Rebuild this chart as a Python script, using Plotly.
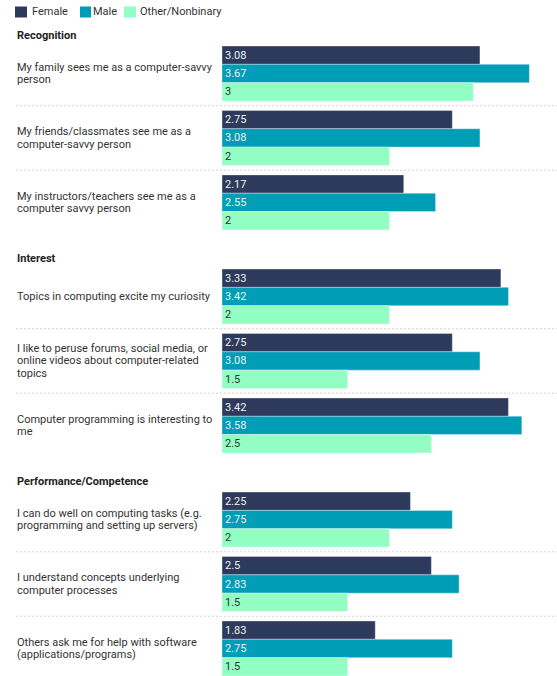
import plotly.graph_objects as go

# ---- data ----
groups = ["Recognition", "Interest", "Performance/Competence"]
question_group = [0, 0, 0, 1, 1, 1, 2, 2, 2]
questions = [
    "My family sees me as a computer-savvy<br>person",
    "My friends/classmates see me as a<br>computer-savvy person",
    "My instructors/teachers see me as a<br>computer savvy person",
    "Topics in computing excite my curiosity",
    "I like to peruse forums, social media, or<br>online videos about computer-related<br>topics",
    "Computer programming is interesting to<br>me",
    "I can do well on computing tasks (e.g.<br>programming and setting up servers)",
    "I understand concepts underlying<br>computer processes",
    "Others ask me for help with software<br>(applications/programs)",
]
female = [3.08, 2.75, 2.17, 3.33, 2.75, 3.42, 2.25, 2.5, 1.83]
male = [3.67, 3.08, 2.55, 3.42, 3.08, 3.58, 2.75, 2.83, 2.75]
other = [3, 2, 2, 2, 1.5, 2.5, 2, 1.5, 1.5]
series_names = ["Female", "Male", "Other/Nonbinary"]

# ---- style ----
colors = ["#2e3a5b", "#009db7", "#92fec3"]
text_colors = ["#f0f0f0", "#f0f0f0", "#333333"]
FONT = "Roboto"
W, H = 557, 676
L_MARGIN = 222
PLOT_W = W - L_MARGIN
LABEL_PX = 16
LINE_PX = 12.2
GROUP_EXTRA = 0.46


def px2x(px):
    return (px - L_MARGIN) / PLOT_W


def py2y(py):
    return 1 - py / H


# row positions
positions = []
p = 0.0
prev = question_group[0]
for g in question_group:
    if g != prev:
        p += GROUP_EXTRA
        prev = g
    positions.append(p)
    p += 1

fig = go.Figure()
for name, vals, c, tc in zip(series_names, [female, male, other], colors, text_colors):
    fig.add_trace(go.Bar(
        y=positions, x=vals, orientation="h", name=name,
        marker=dict(color=c, line=dict(color="rgba(255,255,255,0.35)", width=1)),
        text=[str(v) for v in vals], textposition="inside", insidetextanchor="start",
        textangle=0, constraintext="none",
        textfont=dict(family=FONT, size=11, color=tc),
        hovertemplate="%{x}<extra>" + name + "</extra>",
        showlegend=False,
    ))

annotations = []
shapes = []
for i, (q, pos) in enumerate(zip(questions, positions)):
    lines = q.split("<br>")
    n = len(lines)
    for k, line in enumerate(lines):
        annotations.append(dict(
            x=px2x(LABEL_PX - 1), xref="paper", y=pos, yref="y", text=line, showarrow=False,
            xanchor="left", yanchor="middle", align="left",
            yshift=((n - 1) / 2 - k) * LINE_PX,
            font=dict(family=FONT, size=11, color="#333333"),
        ))
    if i + 1 < len(positions) and question_group[i + 1] == question_group[i]:
        shapes.append(dict(
            type="line", xref="paper", x0=px2x(LABEL_PX), x1=1, yref="y",
            y0=pos + 0.5, y1=pos + 0.5,
            line=dict(color="#d4d4d4", width=1, dash="2px,2px"),
        ))

for gi, gname in enumerate(groups):
    first = positions[question_group.index(gi)]
    annotations.append(dict(
        x=px2x(LABEL_PX - 1), xref="paper", y=first - 0.59, yref="y", text="<b>" + gname + "</b>",
        showarrow=False, xanchor="left", yanchor="middle", align="left",
        font=dict(family=FONT, size=11, color="#222222"),
    ))

# legend (drawn as swatches + labels)
legend_sw = [(15, 27), (80, 91), (124, 136)]
legend_tx = [31, 92, 139]
for name, c, (a, b), tx in zip(series_names, colors, legend_sw, legend_tx):
    shapes.append(dict(type="rect", xref="paper", yref="paper",
                       x0=px2x(a), x1=px2x(b), y0=py2y(17.5), y1=py2y(6.5),
                       fillcolor=c, line=dict(width=0)))
    annotations.append(dict(x=px2x(tx - 1), xref="paper", y=py2y(12), yref="paper",
                            text=name, showarrow=False, xanchor="left", yanchor="middle",
                            font=dict(family=FONT, size=11, color="#333333")))

fig.update_layout(
    width=W, height=H,
    margin=dict(l=L_MARGIN, r=0, t=0, b=0, autoexpand=False),
    paper_bgcolor="white", plot_bgcolor="white",
    barmode="group", bargap=0.147, bargroupgap=0,
    font=dict(family=FONT, size=11, color="#333333"),
    xaxis=dict(range=[0, 4], visible=False, fixedrange=True),
    yaxis=dict(range=[9.347, -1.14], visible=False, fixedrange=True),
    annotations=annotations, shapes=shapes,
    showlegend=False,
)

fig.write_html("out.html", config={"displayModeBar": False},
               post_script="document.body.style.margin='0px';")
